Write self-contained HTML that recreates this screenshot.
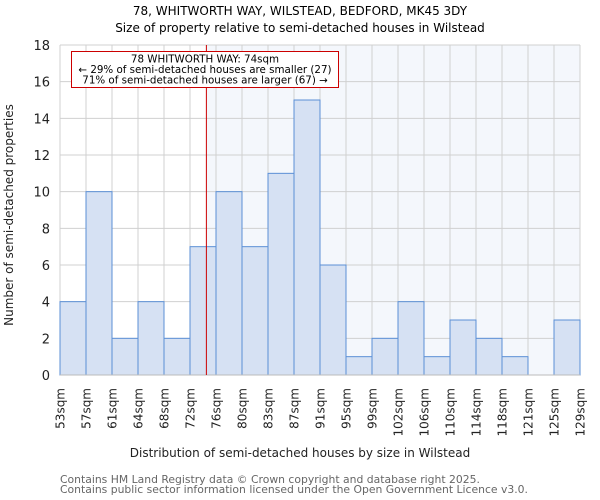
<!DOCTYPE html>
<html><head><meta charset="utf-8"><style>
body{margin:0;background:#fff}
svg{display:block;font-family:"DejaVu Sans","Liberation Sans",sans-serif}
</style></head><body>
<svg id="chart" width="600" height="500">
<text x="300" y="15" text-anchor="middle" font-size="12" fill="#000">78, WHITWORTH WAY, WILSTEAD, BEDFORD, MK45 3DY</text>
<text x="300" y="32" text-anchor="middle" font-size="12" fill="#000">Size of property relative to semi-detached houses in Wilstead</text>
<g id="plot"></g>
<text x="300" y="457" text-anchor="middle" font-size="12" fill="#222">Distribution of semi-detached houses by size in Wilstead</text>
<text transform="translate(13,215) rotate(-90)" text-anchor="middle" font-size="12" fill="#222">Number of semi-detached properties</text>
<text x="60" y="483" font-size="10.8" fill="#666">Contains HM Land Registry data © Crown copyright and database right 2025.</text>
<text x="60" y="493" font-size="10.8" fill="#666">Contains public sector information licensed under the Open Government Licence v3.0.</text>
</svg>
<script>
const binLabels=["53sqm","57sqm","61sqm","64sqm","68sqm","72sqm","76sqm","80sqm","83sqm","87sqm","91sqm","95sqm","99sqm","102sqm","106sqm","110sqm","114sqm","118sqm","121sqm","125sqm","129sqm"];
const counts=[4,10,2,4,2,7,10,7,11,15,6,1,2,4,1,3,2,1,0,3];
const yTicks=[0,2,4,6,8,10,12,14,16,18];
const markerBin=5.63;
const NS="http://www.w3.org/2000/svg";
const L=60,R=580,T=45,B=375,yMax=18;
const bw=(R-L)/counts.length;
const xs=i=>L+i*bw;
const ys=v=>B-(v/yMax)*(B-T);
const g=document.getElementById('plot');
function mk(tag,a){const e=document.createElementNS(NS,tag);for(const k in a)e.setAttribute(k,a[k]);g.appendChild(e);return e;}
const mx=xs(markerBin);
let e=mk('rect',{x:mx,y:T,width:R-mx,height:B-T,fill:'#f4f7fc'});


for(let i=0;i<=counts.length;i++){e=mk('line',{x1:xs(i),x2:xs(i),y1:T,y2:B,stroke:'#d0d0d0','stroke-width':1});

}
yTicks.forEach(t=>{e=mk('line',{x1:L,x2:R,y1:ys(t),y2:ys(t),stroke:'#d0d0d0','stroke-width':1});


e=mk('text',{x:L-10,y:ys(t)+5,'text-anchor':'end','font-size':'13',fill:'#222'});e.textContent=t;

});
counts.forEach((c,i)=>{if(c<=0)return;e=mk('rect',{x:xs(i),y:ys(c),width:bw,height:B-ys(c),fill:'#d6e1f3',stroke:'#5b8fd6','stroke-width':1});

});
binLabels.forEach((l,i)=>{e=mk('text',{transform:`translate(${xs(i)+4.5},388) rotate(-90)`,'text-anchor':'end','font-size':'12',fill:'#222'});e.textContent=l;

});
e=mk('line',{x1:L,x2:R,y1:B,y2:B,stroke:'#bbb','stroke-width':1});


e=mk('line',{x1:mx,x2:mx,y1:T,y2:B,stroke:'#cc0000','stroke-width':1});


e=mk('rect',{x:71.5,y:51.5,width:267,height:36,fill:'#fff',stroke:'#cc0000','stroke-width':1});


["78 WHITWORTH WAY: 74sqm","← 29% of semi-detached houses are smaller (27)","71% of semi-detached houses are larger (67) →"].forEach((t,i)=>{
e=mk('text',{x:205,y:62.5+i*10.5,'text-anchor':'middle','font-size':'10.3',fill:'#000'});e.textContent=t;

});
</script>
</body></html>
